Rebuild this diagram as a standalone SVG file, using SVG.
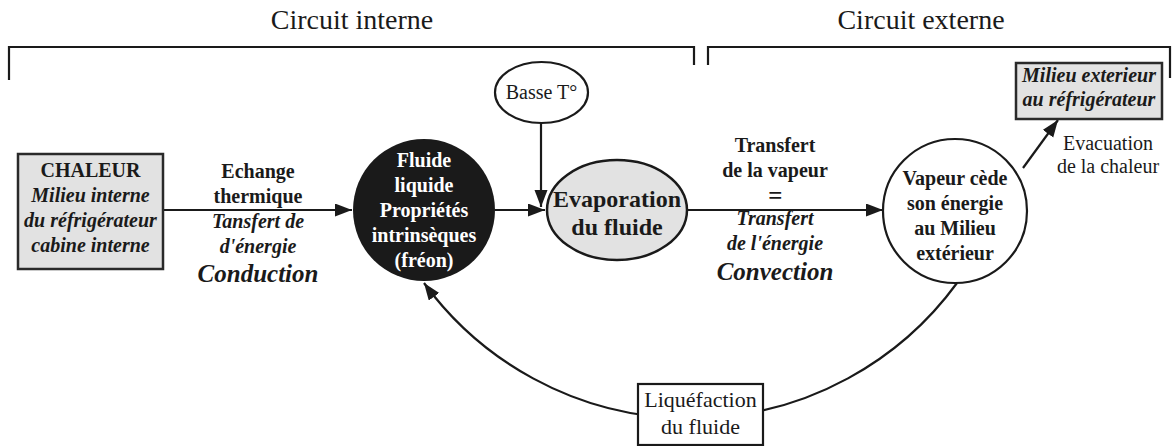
<svg xmlns="http://www.w3.org/2000/svg" width="1172" height="446" viewBox="0 0 1172 446">
<style>
text{font-family:"Liberation Serif","Times New Roman",serif;fill:#1a1a1a;text-anchor:middle}
.t{font-size:28px}
.r{font-size:20px}
.b{font-size:20px;font-weight:bold}
.bi{font-size:20px;font-weight:bold;font-style:italic}
.big{font-size:25px;font-weight:bold;font-style:italic}
.w{fill:#fff}
.ln{fill:none;stroke:#1a1a1a;stroke-width:2.2}
.box{fill:#e2e2e2;stroke:#2a2a2a;stroke-width:2.5}
</style>
<defs>
<marker id="ah" markerUnits="userSpaceOnUse" markerWidth="18" markerHeight="14" refX="17" refY="6.5" orient="auto">
<path d="M0,0 L17,6.5 L0,13 z" fill="#1a1a1a"/>
</marker>
</defs>
<g id="titles">
<text class="t" x="352" y="29">Circuit interne</text>
<text class="t" x="921" y="29">Circuit externe</text>
<path class="ln" d="M9,80 V47 H694 V65"/>
<path class="ln" d="M708,65 V47 H1170 V78"/>
</g>
<g id="connectors">
<line class="ln" x1="163" y1="210" x2="352" y2="210" marker-end="url(#ah)"/>
<line class="ln" x1="495" y1="210" x2="545" y2="210" marker-end="url(#ah)"/>
<line class="ln" x1="541" y1="123" x2="541" y2="207" marker-end="url(#ah)"/>
<line class="ln" x1="687" y1="210" x2="883" y2="210" marker-end="url(#ah)"/>
<line class="ln" x1="1023" y1="168" x2="1058" y2="120" marker-end="url(#ah)"/>
<path class="ln" d="M957,283 A330,330 0 0 1 424,283" marker-end="url(#ah)"/>
</g>
<g id="chaleur">
<rect class="box" x="18" y="154" width="145" height="115"/>
<text class="b" x="90.5" y="177">CHALEUR</text>
<text class="bi" x="90.5" y="202">Milieu interne</text>
<text class="bi" x="90.5" y="227">du réfrigérateur</text>
<text class="bi" x="90.5" y="252">cabine interne</text>
</g>
<g id="label-conduction">
<text class="b" x="258" y="178">Echange</text>
<text class="b" x="258" y="203">thermique</text>
<text class="bi" x="258" y="228">Tansfert de</text>
<text class="bi" x="258" y="253">d'énergie</text>
<text class="big" x="258" y="282">Conduction</text>
</g>
<g id="fluide">
<circle cx="424" cy="210" r="71" fill="#1a1a1a"/>
<text class="b w" x="424" y="167">Fluide</text>
<text class="b w" x="424" y="192">liquide</text>
<text class="b w" x="424" y="217">Propriétés</text>
<text class="b w" x="424" y="242">intrinsèques</text>
<text class="b w" x="424" y="267">(fréon)</text>
</g>
<g id="basse">
<ellipse cx="541.5" cy="92.5" rx="46.5" ry="30.5" fill="#fff" stroke="#1a1a1a" stroke-width="2.2"/>
<text class="r" x="541.5" y="99">Basse T°</text>
</g>
<g id="evaporation">
<ellipse cx="617" cy="210" rx="70" ry="50" fill="#e2e2e2" stroke="#1a1a1a" stroke-width="2.5"/>
<text x="617" y="207" style="font-size:24px;font-weight:bold">Evaporation</text>
<text x="617" y="235" style="font-size:24px;font-weight:bold">du fluide</text>
</g>
<g id="label-convection">
<text class="b" x="775" y="152">Transfert</text>
<text class="b" x="775" y="177">de la vapeur</text>
<text class="big" x="775" y="204">=</text>
<text class="bi" x="775" y="225">Transfert</text>
<text class="bi" x="775" y="250">de l'énergie</text>
<text class="big" x="775" y="280">Convection</text>
</g>
<g id="vapeur">
<circle cx="955" cy="211" r="72" fill="#fff" stroke="#1a1a1a" stroke-width="2.2"/>
<text class="b" x="955" y="185">Vapeur cède</text>
<text class="b" x="955" y="210">son énergie</text>
<text class="b" x="955" y="235">au Milieu</text>
<text class="b" x="955" y="260">extérieur</text>
</g>
<g id="milieu-ext">
<rect class="box" x="1016" y="63" width="146" height="56"/>
<text class="bi" x="1089" y="82">Milieu exterieur</text>
<text class="bi" x="1089" y="106">au réfrigérateur</text>
</g>
<g id="evacuation">
<text class="r" x="1108" y="150">Evacuation</text>
<text class="r" x="1108" y="173">de la chaleur</text>
</g>
<g id="liquefaction">
<rect x="638" y="384" width="125" height="61" fill="#fff" stroke="#1a1a1a" stroke-width="2.2"/>
<text x="700.5" y="407" style="font-size:22px">Liquéfaction</text>
<text x="700.5" y="434" style="font-size:22px">du fluide</text>
</g>
</svg>
